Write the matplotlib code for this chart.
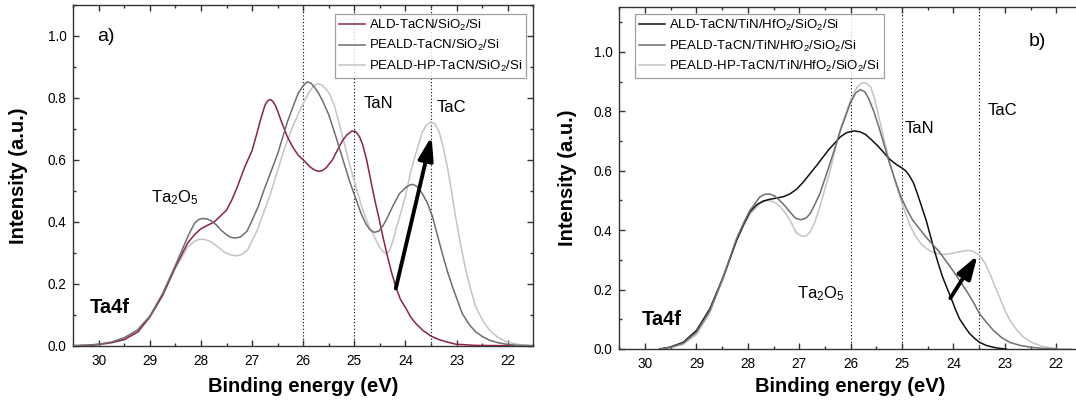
import matplotlib
matplotlib.use("Agg")
import matplotlib.pyplot as plt
from matplotlib.ticker import MultipleLocator, FormatStrFormatter

plt.rcParams['font.family'] = ['Liberation Sans', 'DejaVu Sans']
plt.rcParams['mathtext.fontset'] = 'custom'
plt.rcParams['mathtext.rm'] = 'Liberation Sans'
plt.rcParams['mathtext.it'] = 'Liberation Sans:italic'
plt.rcParams['mathtext.bf'] = 'Liberation Sans:bold'
plt.rcParams['mathtext.default'] = 'regular'

# ---------------- data: panel a ----------------
a_ald_x = [30.5, 30.2, 30.0, 29.75, 29.5, 29.23, 29.0, 28.75, 28.5, 28.26, 28.12, 28.0, 27.74, 27.5,
           27.4, 27.29, 27.15, 27.0, 26.9, 26.83, 26.75, 26.7, 26.65, 26.6, 26.55, 26.5, 26.42,
           26.31, 26.2, 26.1, 26.0, 25.85, 25.75, 25.69, 25.62, 25.55, 25.43, 25.33, 25.23, 25.15,
           25.05, 24.98, 24.9, 24.84, 24.76, 24.68, 24.6, 24.51, 24.43, 24.35, 24.27, 24.19, 24.1,
           23.99, 23.9, 23.8, 23.65, 23.5, 23.35, 23.21, 23.02, 22.63, 22.0, 21.5]
a_ald_y = [0.0, 0.001, 0.004, 0.01, 0.02, 0.045, 0.094, 0.163, 0.255, 0.332, 0.36, 0.378, 0.40, 0.438,
           0.47, 0.513, 0.575, 0.631, 0.69, 0.733, 0.776, 0.79, 0.795, 0.79, 0.777, 0.757, 0.72,
           0.674, 0.64, 0.615, 0.60, 0.575, 0.565, 0.563, 0.566, 0.575, 0.60, 0.632, 0.663, 0.68,
           0.693, 0.692, 0.675, 0.65, 0.60, 0.534, 0.47, 0.405, 0.343, 0.287, 0.235, 0.19, 0.15,
           0.12, 0.093, 0.072, 0.048, 0.031, 0.02, 0.013, 0.005, 0.001, 0.0, 0.0]

a_pe_x = [30.5, 30.2, 30.0, 29.75, 29.5, 29.25, 29.0, 28.75, 28.5, 28.26, 28.13, 28.05, 27.97, 27.88,
          27.8, 27.7, 27.61, 27.5, 27.42, 27.35, 27.28, 27.22, 27.1, 27.0, 26.88, 26.77, 26.5, 26.31,
          26.2, 26.1, 26.0, 25.92, 25.85, 25.77, 25.7, 25.62, 25.5, 25.36, 25.1, 24.87, 24.78,
          24.7, 24.61, 24.52, 24.45, 24.38, 24.25, 24.12, 24.0, 23.93, 23.86, 23.78, 23.67,
          23.57, 23.47, 23.38, 23.28, 23.18, 23.08, 22.98, 22.89, 22.76, 22.63, 22.5, 22.36,
          22.2, 22.04, 21.8, 21.5]
a_pe_y = [0.0, 0.002, 0.005, 0.012, 0.026, 0.05, 0.096, 0.169, 0.26, 0.352, 0.395, 0.407, 0.411, 0.409,
          0.403, 0.39, 0.373, 0.358, 0.35, 0.348, 0.349, 0.352, 0.37, 0.405, 0.45, 0.502, 0.62, 0.723,
          0.772, 0.815, 0.84, 0.852, 0.848, 0.832, 0.815, 0.79, 0.745, 0.674, 0.534, 0.427, 0.395,
          0.375, 0.366, 0.37, 0.385, 0.405, 0.45, 0.491, 0.51, 0.518, 0.521, 0.515, 0.491,
          0.46, 0.416, 0.36, 0.298, 0.24, 0.19, 0.145, 0.104, 0.07, 0.045, 0.03, 0.018,
          0.01, 0.005, 0.001, 0.0]

a_hp_x = [30.5, 30.2, 30.0, 29.75, 29.5, 29.25, 29.0, 28.75, 28.5, 28.26, 28.12, 28.03, 27.92, 27.8,
          27.68, 27.55, 27.42, 27.3, 27.2, 27.09, 26.9, 26.64, 26.38, 26.2, 26.01, 25.9, 25.8,
          25.72, 25.64, 25.55, 25.49, 25.4, 25.3, 25.23, 25.1, 24.97, 24.84, 24.71, 24.51, 24.45,
          24.38, 24.32, 24.25, 24.19, 24.09, 23.99, 23.9, 23.8, 23.67, 23.6, 23.5, 23.42, 23.34,
          23.26, 23.18, 23.1, 23.02, 22.92, 22.82, 22.72, 22.63, 22.5, 22.36, 22.2, 22.04, 21.78,
          21.5]
a_hp_y = [0.0, 0.002, 0.004, 0.009, 0.02, 0.045, 0.091, 0.163, 0.25, 0.319, 0.338, 0.344, 0.343, 0.335,
          0.32, 0.303, 0.293, 0.29, 0.295, 0.309, 0.373, 0.491, 0.631, 0.71, 0.78, 0.815, 0.838,
          0.846, 0.842, 0.828, 0.814, 0.78, 0.72, 0.674, 0.59, 0.513, 0.44, 0.384, 0.319, 0.305,
          0.298, 0.305, 0.335, 0.373, 0.43, 0.491, 0.56, 0.62, 0.69, 0.71, 0.723, 0.715, 0.69,
          0.64, 0.577, 0.5, 0.416, 0.325, 0.244, 0.18, 0.126, 0.085, 0.051, 0.028, 0.013, 0.004,
          0.0]

# ---------------- data: panel b ----------------
b_ald_x = [29.71, 29.52, 29.26, 29.0, 28.74, 28.48, 28.22, 28.08, 27.96, 27.83, 27.7, 27.57, 27.44,
           27.3, 27.18, 27.05, 26.92, 26.66, 26.43, 26.2, 26.08, 25.94, 25.82, 25.71, 25.6, 25.48,
           25.36, 25.25, 25.12, 25.01, 24.93, 24.86, 24.78, 24.7, 24.62, 24.53, 24.45, 24.37, 24.29,
           24.21, 24.12, 24.04, 23.96, 23.88, 23.78, 23.69, 23.59, 23.49, 23.36, 23.23, 23.1, 22.97]
b_ald_y = [0.0, 0.006, 0.022, 0.062, 0.135, 0.242, 0.365, 0.42, 0.461, 0.485, 0.498, 0.504, 0.508,
           0.513, 0.522, 0.538, 0.562, 0.618, 0.67, 0.714, 0.728, 0.734, 0.731, 0.722, 0.705, 0.685,
           0.662, 0.64, 0.622, 0.61, 0.6, 0.584, 0.56, 0.522, 0.48, 0.433, 0.382, 0.331, 0.285,
           0.242, 0.203, 0.169, 0.133, 0.101, 0.075, 0.053, 0.036, 0.022, 0.012, 0.006, 0.002, 0.0]

b_pe_x = [29.71, 29.5, 29.26, 29.0, 28.74, 28.48, 28.22, 28.08, 27.96, 27.77, 27.68, 27.58, 27.48,
          27.38, 27.28, 27.18, 27.07, 26.97, 26.87, 26.79, 26.7, 26.6, 26.4, 26.2, 26.0, 25.9,
          25.81, 25.72, 25.65, 25.55, 25.45, 25.35, 25.25, 25.13, 25.02, 24.9, 24.79, 24.53,
          24.27, 24.01, 23.75, 23.62, 23.49, 23.35, 23.22, 23.06, 22.9, 22.7, 22.5, 22.25, 21.98]
b_pe_y = [0.0, 0.006, 0.019, 0.056, 0.129, 0.242, 0.371, 0.425, 0.466, 0.511, 0.52, 0.522, 0.515,
          0.50, 0.482, 0.461, 0.44, 0.435, 0.44, 0.455, 0.485, 0.522, 0.625, 0.735, 0.83, 0.862,
          0.873, 0.865, 0.843, 0.80, 0.747, 0.688, 0.629, 0.566, 0.511, 0.467, 0.433, 0.376,
          0.326, 0.264, 0.197, 0.16, 0.118, 0.088, 0.062, 0.038, 0.022, 0.012, 0.006, 0.002, 0.0]

b_hp_x = [29.71, 29.5, 29.26, 29.0, 28.74, 28.48, 28.22, 28.08, 27.96, 27.77, 27.68, 27.58, 27.48,
          27.38, 27.28, 27.18, 27.05, 26.95, 26.87, 26.79, 26.7, 26.6, 26.4, 26.2, 26.0, 25.88,
          25.78, 25.7, 25.61, 25.53, 25.45, 25.35, 25.25, 25.13, 25.02, 24.92, 24.83, 24.72, 24.6,
          24.47, 24.34, 24.2, 24.08, 23.95, 23.82, 23.72, 23.62, 23.49, 23.39, 23.29, 23.19, 23.09,
          23.0, 22.9, 22.76, 22.63, 22.47, 22.31, 22.15, 21.98, 21.7]
b_hp_y = [0.0, 0.005, 0.015, 0.048, 0.121, 0.236, 0.365, 0.415, 0.453, 0.489, 0.497, 0.50, 0.493,
          0.481, 0.46, 0.433, 0.39, 0.379, 0.38, 0.393, 0.425, 0.478, 0.60, 0.74, 0.84, 0.88,
          0.896, 0.895, 0.882, 0.84, 0.781, 0.705, 0.635, 0.56, 0.50, 0.45, 0.41, 0.375, 0.348,
          0.332, 0.322, 0.318, 0.32, 0.325, 0.329, 0.332, 0.329, 0.315, 0.29, 0.253, 0.21, 0.169,
          0.13, 0.096, 0.062, 0.039, 0.022, 0.011, 0.005, 0.001, 0.0]

labels_a = ['ALD-TaCN/SiO$_2$/Si', 'PEALD-TaCN/SiO$_2$/Si', 'PEALD-HP-TaCN/SiO$_2$/Si']
labels_b = ['ALD-TaCN/TiN/HfO$_2$/SiO$_2$/Si', 'PEALD-TaCN/TiN/HfO$_2$/SiO$_2$/Si',
            'PEALD-HP-TaCN/TiN/HfO$_2$/SiO$_2$/Si']
ref_lines = [26.0, 25.0, 23.5]

col_ald_a = '#8b2346'
col_ald_b = '#111111'
col_pe = '#6e6e6e'
col_hp = '#c4c4c4'

fig = plt.figure(figsize=(10.76, 4.05), dpi=100)
ax1 = fig.add_axes([0.0681, 0.1464, 0.4275, 0.8412])
ax2 = fig.add_axes([0.5756, 0.1383, 0.4299, 0.8437])


def style(ax, ytop):
    ax.set_xlim(30.5, 21.5)
    ax.set_ylim(0, ytop)
    ax.xaxis.set_major_locator(MultipleLocator(1))
    ax.xaxis.set_minor_locator(MultipleLocator(0.5))
    ax.yaxis.set_major_locator(MultipleLocator(0.2))
    ax.yaxis.set_minor_locator(MultipleLocator(0.1))
    ax.yaxis.set_major_formatter(FormatStrFormatter('%.1f'))
    ax.xaxis.set_major_formatter(FormatStrFormatter('%d'))
    ax.tick_params(which='both', direction='in', top=True, right=True, color='#333333', width=1.0)
    ax.tick_params(which='major', length=4.5, labelsize=9.8)
    ax.tick_params(which='minor', length=2.5)
    ax.tick_params(axis='x', which='major', pad=6)
    ax.tick_params(axis='y', which='major', pad=5)
    for s in ax.spines.values():
        s.set_color('#333333')
        s.set_linewidth(1.0)
    for xv in ref_lines:
        ax.axvline(xv, color='black', lw=0.8, linestyle=(0, (1, 2)), zorder=1)
    ax.set_xlabel('Binding energy (eV)', fontsize=14.5, fontweight='bold')
    ax.set_ylabel('Intensity (a.u.)', fontsize=14.5, fontweight='bold')


style(ax1, 1.1)
style(ax2, 1.15)

# panel a curves
ax1.plot(a_ald_x, a_ald_y, color=col_ald_a, lw=1.1, label=labels_a[0], zorder=3)
ax1.plot(a_pe_x, a_pe_y, color=col_pe, lw=1.1, label=labels_a[1], zorder=3)
ax1.plot(a_hp_x, a_hp_y, color=col_hp, lw=1.1, label=labels_a[2], zorder=2)

# panel b curves
ax2.plot(b_ald_x, b_ald_y, color=col_ald_b, lw=1.1, label=labels_b[0], zorder=3)
ax2.plot(b_pe_x, b_pe_y, color=col_pe, lw=1.1, label=labels_b[1], zorder=3)
ax2.plot(b_hp_x, b_hp_y, color=col_hp, lw=1.1, label=labels_b[2], zorder=2)

leg_kw = dict(fontsize=9.5, frameon=True, fancybox=False, borderaxespad=0, borderpad=0.3,
              handlelength=2.0, handletextpad=0.3, labelspacing=0.4)
l1 = ax1.legend(loc='upper right', bbox_to_anchor=(0.985, 0.974), **leg_kw)
l2 = ax2.legend(loc='upper left', bbox_to_anchor=(0.034, 0.980), **leg_kw)
for lg in (l1, l2):
    lg.get_frame().set_edgecolor('#888888')
    lg.get_frame().set_linewidth(0.9)
    lg.set_zorder(5)

# annotations panel a
ax1.text(30.03, 0.998, 'a)', fontsize=14, ha='left', va='center')
ax1.text(28.97, 0.477, 'Ta$_2$O$_5$', fontsize=12, ha='left', va='center')
ax1.text(24.81, 0.782, 'TaN', fontsize=12, ha='left', va='center')
ax1.text(23.39, 0.768, 'TaC', fontsize=12, ha='left', va='center')
ax1.text(30.18, 0.124, 'Ta4f', fontsize=14.5, fontweight='bold', ha='left', va='center')
ax1.annotate('', xy=(23.49, 0.676), xytext=(24.19, 0.185),
             arrowprops=dict(arrowstyle='-|>,head_length=1.4,head_width=0.45', lw=2.8,
                             color='black', shrinkA=0, shrinkB=0), zorder=6)

# annotations panel b
ax2.text(22.53, 1.035, 'b)', fontsize=14, ha='left', va='center')
ax2.text(27.05, 0.185, 'Ta$_2$O$_5$', fontsize=12, ha='left', va='center')
ax2.text(24.94, 0.742, 'TaN', fontsize=12, ha='left', va='center')
ax2.text(23.34, 0.803, 'TaC', fontsize=12, ha='left', va='center')
ax2.text(30.07, 0.10, 'Ta4f', fontsize=14.5, fontweight='bold', ha='left', va='center')
ax2.annotate('', xy=(23.53, 0.315), xytext=(24.06, 0.171),
             arrowprops=dict(arrowstyle='-|>,head_length=1.4,head_width=0.45', lw=2.8,
                             color='black', shrinkA=0, shrinkB=0), zorder=6)

ax1.yaxis.set_label_coords(-0.098, 0.5)
ax2.yaxis.set_label_coords(-0.091, 0.5)
ax1.xaxis.set_label_coords(0.5, -0.092)
ax2.xaxis.set_label_coords(0.5, -0.081)

fig.savefig('out.png', dpi=100)
